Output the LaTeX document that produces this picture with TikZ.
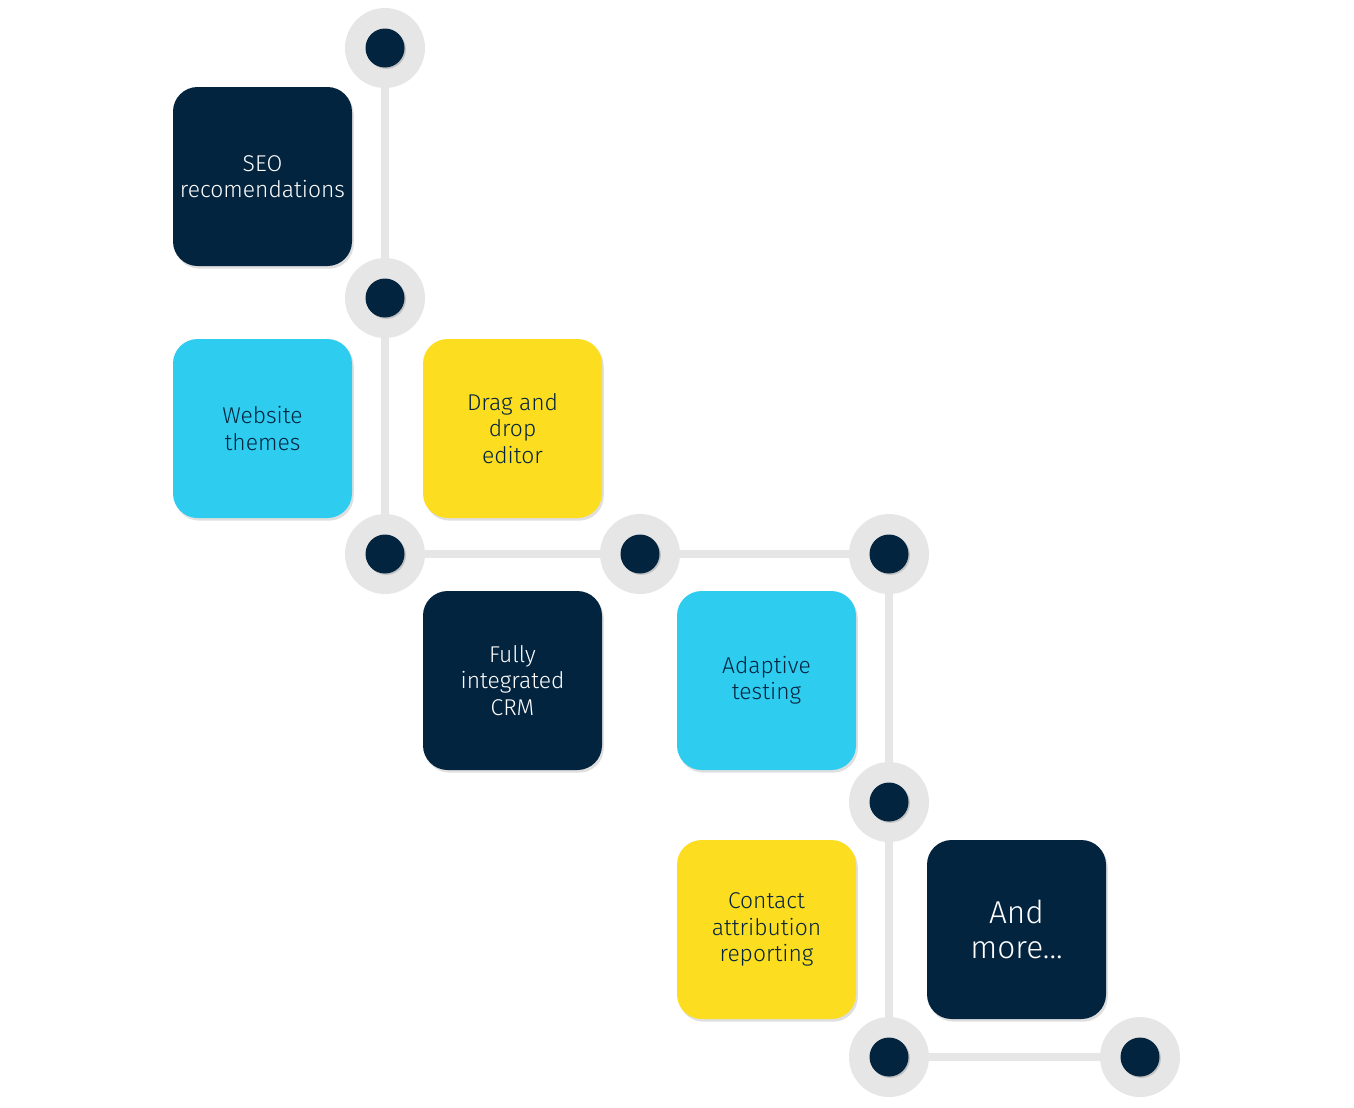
\documentclass[tikz,border=0pt]{standalone}
\usepackage{fontspec}
\setmainfont{Fira Sans Light}
\usetikzlibrary{shadows}
\definecolor{navy}{HTML}{03243F}
\definecolor{cyanb}{HTML}{2ECDF0}
\definecolor{yel}{HTML}{FDDD1F}
\definecolor{ring}{HTML}{E6E6E6}
\tikzset{
 card/.style={rounded corners=14pt,minimum width=179*0.02cm,minimum height=179*0.02cm,align=center,
   font=\fontsize{13}{15}\selectfont,drop shadow={shadow xshift=1pt,shadow yshift=-1.5pt,opacity=0.25}},
 dcard/.style={card,fill=navy,text=white},
 ccard/.style={card,fill=cyanb,text=navy},
 ycard/.style={card,fill=yel,text=navy},
 track/.style={draw=ring,line width=5pt},
 ringc/.style={circle,fill=ring,minimum size=80*0.02cm,inner sep=0},
 dot/.style={circle,fill=navy,minimum size=39*0.02cm,inner sep=0,drop shadow={shadow xshift=0.8pt,shadow yshift=-0.8pt,opacity=0.35}}
}
\begin{document}
\begin{tikzpicture}[x=0.02cm,y=-0.02cm]
\useasboundingbox (0,0) rectangle (1354,1107);
\foreach \n/\x/\y in {a/385/48,b/385/298,c/385/554,d/640/554,e/889/554,f/889/802,g/889/1057,h/1140/1057}{
  \coordinate (\n) at (\x,\y);}
\draw[track] (a)--(b)--(c)--(d)--(e)--(f)--(g)--(h);
\foreach \n in {a,b,c,d,e,f,g,h}{
  \node[ringc] (r\n) at (\n) {};
  \node[dot] (k\n) at (\n) {};}
\node[dcard] (seo) at (262.5,176.5) {SEO\\recomendations};
\node[ccard] (web) at (262.5,428.5) {Website\\themes};
\node[ycard] (drag) at (512.5,428.5) {Drag and\\drop\\editor};
\node[dcard] (crm) at (512.5,680.5) {Fully\\integrated\\CRM};
\node[ccard] (adapt) at (766.5,680.5) {Adaptive\\testing};
\node[ycard] (contact) at (766.5,929.5) {Contact\\attribution\\reporting};
\node[dcard,font=\fontsize{18}{20}\selectfont] (more) at (1016.5,929.5) {And\\more...};
\end{tikzpicture}
\end{document}
